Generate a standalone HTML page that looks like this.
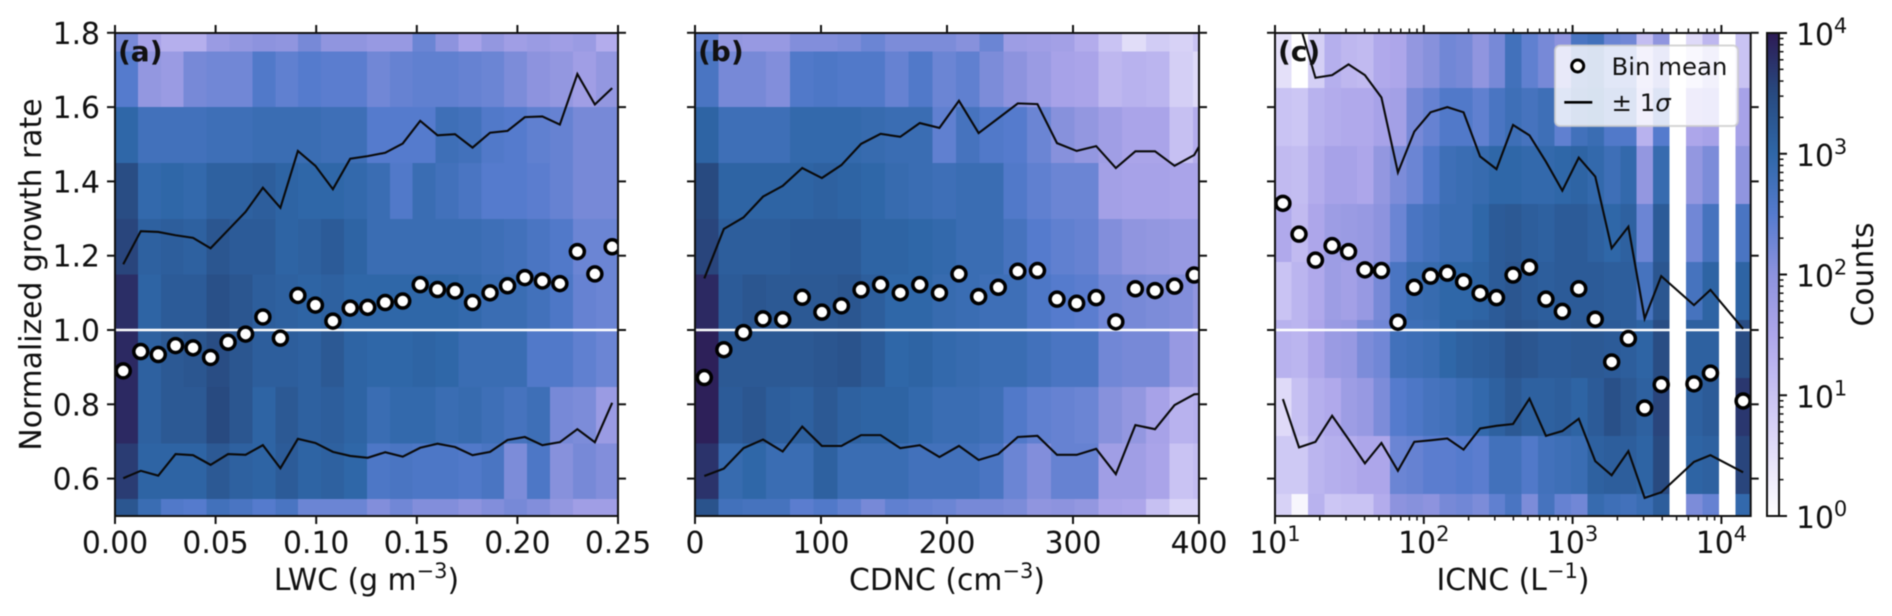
<!DOCTYPE html>
<html lang="en">
<head>
<meta charset="utf-8">
<title>Normalized growth rate vs LWC, CDNC, ICNC</title>
<style>
html,body{margin:0;padding:0;background:#fff;}
svg{display:block;filter:blur(0.45px);}
text{font-family:"DejaVu Sans","Liberation Sans",sans-serif;fill:#111;}
</style>
</head>
<body>
<svg id="chart" width="1892" height="616" viewBox="0 0 1892 616" xmlns="http://www.w3.org/2000/svg">
<defs id="defs"></defs>
<g id="panels"></g>

<text transform="translate(41,274.5) rotate(-90)" text-anchor="middle" font-size="29.8">Normalized growth rate</text>
<text x="366.5" y="590" text-anchor="middle" font-size="29.8">LWC (g m<tspan dy="-12" font-size="21">−3</tspan><tspan dy="12">)</tspan></text>
<text x="947" y="590" text-anchor="middle" font-size="29.8">CDNC (cm<tspan dy="-12" font-size="21">−3</tspan><tspan dy="12">)</tspan></text>
<text x="1513" y="590" text-anchor="middle" font-size="29.8">ICNC (L<tspan dy="-12" font-size="21">−1</tspan><tspan dy="12">)</tspan></text>

<g>
  <rect x="1555" y="45.5" width="183" height="80.5" rx="5" fill="#ffffff" fill-opacity="0.8" stroke="#cccccc" stroke-opacity="0.8" stroke-width="2"></rect>
  <circle cx="1577.7" cy="66" r="6" fill="#ffffff" stroke="#000" stroke-width="3"></circle>
  <text x="1611.5" y="75" font-size="24.4">Bin mean</text>
  <line x1="1564.3" x2="1592.3" y1="102.3" y2="102.3" stroke="#000" stroke-width="2.6"></line>
  <text x="1611.5" y="111" font-size="24.4">± 1<tspan font-style="italic">σ</tspan></text>
</g>

<g id="colorbar"></g>
<text transform="translate(1873,274.5) rotate(-90)" text-anchor="middle" font-size="29.8">Counts</text>
</svg>

<script>
// ---------- bins ----------
const rowEdgesAB = [0.5,0.545,0.695,0.847,0.998,1.149,1.299,1.45,1.6,1.75,1.8];
const rowEdgesC  = [0.5,0.559,0.715,0.871,1.027,1.183,1.339,1.495,1.651,1.8];
const colWidthA = 0.01138;
const colWidthB = 18.83;
const colWidthCExp = 0.1105;

// ---------- heatmaps: log10(counts), rows listed top to bottom ----------
const heatA = [
[2.2,1.6,1.35,1.35,1.8,1.9,2.0,1.95,2.2,1.95,1.95,1.85,1.85,2.3,2.0,1.6,1.9,1.7,1.8,1.7,1.8,1.4],
[2.5,1.9,1.8,2.2,2.25,2.25,2.55,2.4,2.5,2.45,2.45,2.25,2.35,2.4,2.4,2.35,2.3,2.15,2.0,1.9,1.7,1.9],
[3.0,2.75,2.75,2.75,2.8,2.8,2.85,2.85,2.85,2.8,2.8,2.5,2.5,2.5,2.8,2.75,2.55,2.5,2.4,2.35,2.2,2.2],
[3.45,2.95,3.0,2.95,3.1,3.1,3.15,3.05,3.0,3.0,2.95,2.85,2.55,2.85,2.75,2.65,2.5,2.5,2.45,2.35,2.2,2.2],
[3.55,3.1,3.15,3.1,3.3,3.2,3.2,3.05,3.1,3.2,3.05,2.85,2.85,2.85,2.85,2.85,2.8,2.75,2.65,2.55,2.3,2.3],
[3.8,3.05,3.2,3.2,3.4,3.3,3.15,3.1,3.05,3.1,3.0,3.0,3.0,3.0,3.0,2.95,2.85,2.85,2.75,2.6,2.35,2.3],
[3.85,3.1,3.25,3.3,3.45,3.3,3.15,3.15,3.1,3.25,3.05,3.0,3.0,3.05,3.0,2.85,2.85,2.85,2.55,2.55,2.4,2.3],
[3.85,3.1,3.25,3.25,3.5,3.3,3.05,3.25,3.1,3.15,3.05,2.85,2.95,2.95,2.85,2.9,2.8,2.7,2.8,2.2,2.15,1.8],
[3.65,3.05,3.05,3.05,3.25,3.1,3.05,3.2,3.05,3.1,3.0,2.6,2.65,2.6,2.6,2.55,2.65,2.15,2.6,2.05,2.2,2.1],
[3.3,2.85,2.55,2.5,2.75,2.65,2.5,2.65,2.3,2.3,2.3,2.1,2.25,2.1,2.1,2.0,2.1,2.2,2.1,1.9,1.7,1.7]
];
const heatB = [
[2.4,1.9,1.85,1.85,2.1,2.1,2.15,2.3,2.15,2.15,2.15,2.05,2.3,1.75,1.7,1.65,1.4,1.0,0.55,0.85,0.75,1.0],
[2.65,2.2,2.2,2.1,2.55,2.6,2.55,2.55,2.35,2.55,2.3,2.4,2.15,2.0,1.8,1.6,1.55,1.2,1.3,1.25,0.8,0.6],
[3.05,2.8,2.8,2.8,2.95,2.95,2.95,2.9,2.85,2.85,2.4,2.7,2.55,2.5,2.3,2.05,1.9,1.7,1.55,1.55,1.05,1.4],
[3.5,3.05,3.05,3.05,3.05,3.1,3.05,3.0,2.9,2.85,2.8,2.85,2.85,2.55,2.4,2.3,2.3,1.65,1.6,1.6,1.55,1.55],
[3.55,3.15,3.15,3.15,3.2,3.2,3.2,3.05,3.05,3.0,2.95,2.85,2.85,2.7,2.5,2.4,2.35,2.1,1.95,1.9,1.85,1.85],
[3.85,3.2,3.3,3.25,3.25,3.25,3.3,3.15,3.0,3.0,2.9,2.85,2.8,2.8,2.6,2.5,2.45,2.25,2.2,2.15,2.1,1.95],
[3.95,3.25,3.25,3.25,3.25,3.3,3.35,3.2,3.0,3.05,2.95,2.9,2.85,2.85,2.75,2.65,2.65,2.25,2.2,2.2,1.85,1.75],
[3.95,3.2,3.3,3.15,3.1,3.25,3.1,3.05,3.05,2.95,2.85,2.85,2.8,2.55,2.4,2.35,2.3,2.05,1.9,1.6,1.3,1.35],
[3.75,2.9,3.0,2.85,2.85,3.1,2.85,2.85,2.85,2.75,2.75,2.75,2.65,2.3,2.1,2.35,2.35,1.7,1.7,1.55,1.0,1.1],
[3.35,2.75,2.7,2.7,2.45,2.55,2.4,2.2,2.4,2.35,2.3,2.2,2.2,2.15,1.95,2.0,1.9,1.55,1.5,1.05,0.7,0.7]
];
const heatC = [
[0.5,0,0.8,1.35,1.2,1.15,1.45,1.5,1.9,2.05,2.25,2.2,1.95,2.2,2.75,2.4,2.2,2.0,2.65,2.75,2.3,2.25,1.1,1.95,0,0.6,1.2,0,1.0],
[1.0,0.95,1.3,1.4,1.45,1.45,1.6,1.65,2.2,2.35,2.55,2.55,2.4,2.65,2.8,2.7,2.8,2.4,2.75,2.85,2.55,2.55,1.3,2.5,0,1.5,1.6,0,1.6],
[1.15,1.1,1.4,1.6,1.6,1.5,1.9,2.15,2.3,2.55,2.8,2.85,2.9,3.0,3.0,2.95,2.95,3.0,3.05,2.95,2.8,2.95,1.9,2.9,0,1.9,2.15,0,1.95],
[1.45,1.15,1.5,1.75,1.8,1.85,2.0,2.3,2.65,2.75,2.85,2.85,3.0,3.2,3.25,3.15,3.1,3.2,3.2,3.1,3.0,3.1,2.3,3.2,0,2.25,2.7,0,2.65],
[1.0,1.25,1.45,1.75,1.65,1.85,2.2,2.65,2.85,2.9,3.0,3.0,3.05,3.2,3.3,3.2,3.15,3.2,3.2,3.2,3.15,3.15,2.7,3.3,0,2.7,3.05,0,3.05],
[1.3,1.25,1.5,1.8,1.85,2.15,2.25,2.75,2.8,2.85,3.0,3.1,3.15,3.2,3.35,3.3,3.2,3.2,3.25,3.25,3.2,3.15,3.05,3.45,0,3.1,3.1,0,3.45],
[0.6,1.05,1.35,1.45,1.75,1.85,2.15,2.5,2.6,2.7,2.75,2.85,2.95,3.1,3.25,3.1,3.1,3.15,3.05,3.2,3.4,3.25,3.1,3.55,0,3.1,3.2,0,3.7],
[0.9,0.9,1.25,1.35,1.4,1.5,1.5,2.3,2.35,2.45,2.45,2.5,2.45,2.75,2.75,2.55,2.75,2.8,2.85,3.1,3.15,3.15,3.05,3.5,0,3.05,3.1,0,3.55],
[0.75,0.15,1.3,0.95,1.0,1.0,1.4,2.0,2.05,2.0,2.2,2.25,2.15,2.4,2.65,2.15,2.7,2.35,2.25,2.9,2.8,2.75,2.85,3.15,0,2.15,2.35,0,2.95]
];

// ---------- line and point series ----------
const lwcBins = [.0041,.0128,.0215,.0301,.0388,.0475,.0562,.0649,.0735,.0822,.0909,.0996,.1083,.1169,.1256,.1343,.143,.1517,.1603,.169,.1777,.1864,.1951,.2037,.2124,.2211,.2298,.2385,.2471];
const lwcMean = [.890,.942,.934,.958,.952,.926,.967,.989,1.035,.978,1.093,1.067,1.024,1.059,1.061,1.074,1.078,1.122,1.109,1.105,1.074,1.10,1.119,1.141,1.132,1.125,1.211,1.151,1.224];
const lwcUpper = [1.177,1.266,1.264,1.255,1.248,1.22,1.269,1.318,1.383,1.329,1.482,1.442,1.379,1.461,1.468,1.477,1.502,1.563,1.524,1.527,1.491,1.531,1.536,1.573,1.575,1.553,1.689,1.607,1.651];
const lwcLower = [.601,.621,.608,.666,.663,.637,.666,.664,.690,.628,.707,.696,.672,.661,.656,.671,.659,.683,.694,.685,.663,.672,.704,.712,.690,.698,.733,.698,.804];

const cdncBins = [7.4,22.9,38.5,54,69.6,85.1,100.7,116.2,131.8,147.3,162.9,178.4,194,209.5,225.1,240.7,256.2,271.8,287.3,302.9,318.4,334,349.5,365.1,380.6,396.2,411.7];
const cdncMean = [.872,.947,.993,1.030,1.028,1.088,1.048,1.065,1.108,1.122,1.10,1.122,1.10,1.151,1.09,1.115,1.158,1.16,1.083,1.072,1.087,1.022,1.111,1.106,1.118,1.148,1.15];
const cdncUpper = [1.139,1.272,1.303,1.359,1.388,1.436,1.409,1.444,1.501,1.528,1.520,1.557,1.544,1.617,1.530,1.570,1.61,1.608,1.503,1.482,1.495,1.436,1.481,1.481,1.442,1.471,1.563];
const cdncLower = [.607,.627,.682,.705,.673,.740,.688,.688,.717,.717,.682,.690,.658,.688,.650,.666,.712,.715,.664,.664,.680,.612,.744,.733,.798,.827,.83];

const icncBins = [11.3,14.5,18.7,24.2,31.2,40.2,51.9,67,86.3,111,144,185,239,308,398,513,662,853,1100,1420,1830,2370,3050,3940,6540,8440,14000];
const icncMean = [1.341,1.258,1.188,1.227,1.211,1.162,1.160,1.021,1.115,1.145,1.153,1.13,1.099,1.087,1.148,1.169,1.083,1.05,1.111,1.029,.914,.977,.79,.853,.855,.884,.809];
const icncUpper = [2.1,1.83,1.679,1.686,1.715,1.686,1.626,1.424,1.534,1.586,1.600,1.586,1.467,1.433,1.552,1.524,1.453,1.375,1.464,1.413,1.220,1.278,1.031,1.145,1.067,1.108,1.003];
const icncLower = [.814,.684,.699,.769,.706,.641,.696,.621,.699,.703,.708,.678,.735,.742,.747,.815,.715,.728,.761,.647,.609,.674,.548,.563,.645,.663,.617];

// ---------- tick labels ----------
const yTicks = [0.6,0.8,1.0,1.2,1.4,1.6,1.8];
const lwcTicks = [0,0.05,0.10,0.15,0.20,0.25];
const cdncTicks = [0,100,200,300,400];
const decadeTicks = [1,2,3,4];
const cbarTicks = [0,1,2,3,4];
const minorFactors = [2,3,4,5,6,7,8,9];

// ---------- colour map: [log10 counts, colour] ----------
const cmapStops = [[0,'#ffffff'],[0.5,'#e4e0f9'],[1,'#c9c3f3'],[1.5,'#ada6ea'],[2,'#8d93de'],[2.5,'#557bcd'],[3,'#2f67a8'],[3.5,'#284a80'],[4,'#2d1b55']];

// ---------- axis geometry ----------
const plotTop = 33, plotBottom = 516;
const yScale = v => 330 + (1 - v) * 371.5;
const lwcScale = v => 115 + v * 2012;
const cdncScale = v => 695 + v * 1.26;
const icncExp = e => 1275 + (e - 1) * 148.8;
const icncScale = v => icncExp(Math.log10(v));

const NS = 'http://www.w3.org/2000/svg';
const panelsRoot = document.getElementById('panels');
const defs = document.getElementById('defs');

function hexToRgb(h){return [1,3,5].map(i=>parseInt(h.substr(i,2),16));}
function colorFor(v){
  const c = Math.max(0,Math.min(4,v));
  for(let i=1;i<cmapStops.length;i++){
    if(c<=cmapStops[i][0]){
      const a=cmapStops[i-1],b=cmapStops[i];
      const t=(c-a[0])/(b[0]-a[0]);
      const p=hexToRgb(a[1]),q=hexToRgb(b[1]);
      return 'rgb('+p.map((x,j)=>Math.round(x+(q[j]-x)*t)).join(',')+')';
    }
  }
  return cmapStops[cmapStops.length-1][1];
}
function el(tag,parent,attrs){
  const e=document.createElementNS(NS,tag);
  for(const k in attrs)e.setAttribute(k,attrs[k]);
  parent.appendChild(e);
  return e;
}
function pathFrom(xs,ys,sx){
  return xs.map((x,i)=>(i?'L':'M')+sx(x).toFixed(2)+' '+yScale(ys[i]).toFixed(2)).join('');
}
function addTick(parent,x1,y1,x2,y2,w){
  const t=el('line',parent,{x1:x1,y1:y1,x2:x2,y2:y2,stroke:'#111','stroke-width':w});
  
  
  return t;
}
function addLabel(parent,x,y,anchor,str){
  const t=el('text',parent,{x:x,y:y,'text-anchor':anchor,'font-size':29.8});
  
  
  t.textContent=str;
  return t;
}
function addPowerLabel(parent,x,y,anchor,exp){
  const t=el('text',parent,{x:x,y:y,'text-anchor':anchor,'font-size':29.8});
  
  
  t.appendChild(document.createTextNode('10'));
  const s=el('tspan',t,{dy:-12,'font-size':21});
  s.textContent=String(exp);
  return t;
}

const panelDefs = [
 {id:'a',label:'(a)',left:115,right:618,heat:heatA,rows:rowEdgesAB,
  colEdge:k=>lwcScale(k*colWidthA),sx:lwcScale,bins:lwcBins,mean:lwcMean,upper:lwcUpper,lower:lwcLower},
 {id:'b',label:'(b)',left:695,right:1199,heat:heatB,rows:rowEdgesAB,
  colEdge:k=>cdncScale(k*colWidthB),sx:cdncScale,bins:cdncBins,mean:cdncMean,upper:cdncUpper,lower:cdncLower},
 {id:'c',label:'(c)',left:1275,right:1750.7,heat:heatC,rows:rowEdgesC,
  colEdge:k=>icncExp(1+k*colWidthCExp),sx:icncScale,bins:icncBins,mean:icncMean,upper:icncUpper,lower:icncLower}
];

panelDefs.forEach(p=>{
  const clip=el('clipPath',defs,{id:'clip-'+p.id});
  el('rect',clip,{x:p.left,y:plotTop,width:p.right-p.left,height:plotBottom-plotTop});

  const g=el('g',panelsRoot,{});
  
  

  const inner=el('g',g,{'clip-path':'url(#clip-'+p.id+')'});
  
  

  // heatmap cells
  const heat=el('g',inner,{'shape-rendering':'crispEdges'});
  
  
  p.heat.forEach((row,r)=>{
    const edgeHi=p.rows[p.rows.length-1-r], edgeLo=p.rows[p.rows.length-2-r];
    row.forEach((v,k)=>{
      const x0=p.colEdge(k),x1=p.colEdge(k+1);
      const c=el('rect',heat,{x:x0,y:yScale(edgeHi),width:x1-x0+0.4,height:yScale(edgeLo)-yScale(edgeHi),fill:colorFor(v)});
      
      
    });
  });

  // reference line at 1.0
  const ref=el('line',inner,{x1:p.left,x2:p.right,y1:yScale(1),y2:yScale(1),stroke:'#fff','stroke-width':2.4});
  
  

  // sigma lines
  const up=el('path',inner,{d:pathFrom(p.bins,p.upper,p.sx),fill:'none',stroke:'#0a0a0a','stroke-width':2.1,'stroke-linejoin':'miter'});
  
  
  const lo=el('path',inner,{d:pathFrom(p.bins,p.lower,p.sx),fill:'none',stroke:'#0a0a0a','stroke-width':2.1,'stroke-linejoin':'miter'});
  
  

  // bin means
  p.bins.forEach((x,i)=>{
    const m=el('circle',inner,{cx:p.sx(x),cy:yScale(p.mean[i]),r:7,fill:'#fff',stroke:'#000','stroke-width':3.5});
    
    
  });

  // panel letter
  const letter=el('text',g,{x:p.left+3,y:61,'font-size':28,'font-weight':'bold'});
  
  
  letter.textContent=p.label;

  // y ticks
  yTicks.forEach(v=>{
    const y=yScale(v);
    addTick(g,p.left-8,y,p.left,y,2);
    addTick(g,p.right,y,p.right+8,y,2);
    if(p.id==='a')addLabel(g,p.left-15,y+11,'end',v.toFixed(1));
  });

  // x ticks
  if(p.id==='a')lwcTicks.forEach(v=>{
    const x=lwcScale(v);
    addTick(g,x,plotBottom,x,plotBottom+8,2);
    addTick(g,x,plotTop-8,x,plotTop,2);
    addLabel(g,x,553,'middle',v.toFixed(2));
  });
  if(p.id==='b')cdncTicks.forEach(v=>{
    const x=cdncScale(v);
    addTick(g,x,plotBottom,x,plotBottom+8,2);
    addTick(g,x,plotTop-8,x,plotTop,2);
    addLabel(g,x,553,'middle',String(v));
  });
  if(p.id==='c'){
    decadeTicks.forEach(e=>{
      const x=icncExp(e);
      addTick(g,x,plotBottom,x,plotBottom+8,2);
      addTick(g,x,plotTop-8,x,plotTop,2);
      addPowerLabel(g,x,553,'middle',e);
    });
    [1,2,3,4].forEach(e=>minorFactors.forEach(f=>{
      const x=icncExp(e+Math.log10(f));
      if(x>p.right)return;
      addTick(g,x,plotBottom,x,plotBottom+4.5,1.5);
      addTick(g,x,plotTop-4.5,x,plotTop,1.5);
    }));
  }

  // spines
  const frame=el('rect',g,{x:p.left,y:plotTop,width:p.right-p.left,height:plotBottom-plotTop,fill:'none',stroke:'#111','stroke-width':2});
  
  
});

// ---------- colour bar ----------
const cbar=document.getElementById('colorbar');
const cbLeft=1767,cbRight=1779;
const cbScale=e=>plotBottom-e*(plotBottom-plotTop)/4;
const grad=el('linearGradient',defs,{id:'cbar-grad',x1:0,y1:1,x2:0,y2:0});
cmapStops.forEach(s=>{
  el('stop',grad,{offset:s[0]/4,'stop-color':s[1]});
});
const cbRect=el('rect',cbar,{x:cbLeft,y:plotTop,width:cbRight-cbLeft,height:plotBottom-plotTop,fill:'url(#cbar-grad)',stroke:'#111','stroke-width':2});


cbarTicks.forEach(e=>{
  const y=cbScale(e);
  addTick(cbar,cbRight,y,cbRight+8,y,2);
  addPowerLabel(cbar,1796,y+12,'start',e);
  if(e<4)minorFactors.forEach(f=>{
    const yy=cbScale(e+Math.log10(f));
    addTick(cbar,cbRight,yy,cbRight+4.5,yy,1.5);
  });
});
</script>
</body>
</html>
